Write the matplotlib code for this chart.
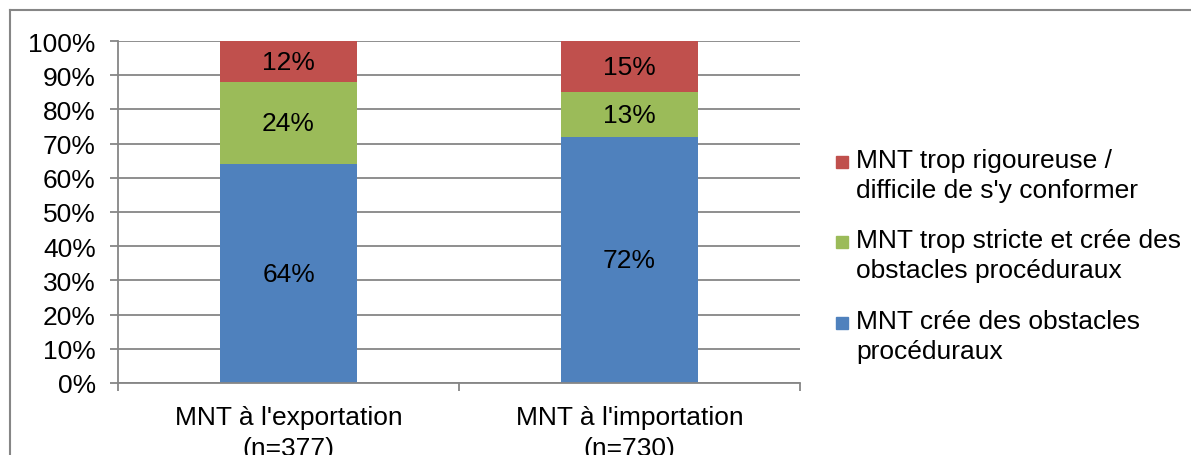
import matplotlib
matplotlib.use("Agg")
import matplotlib.pyplot as plt
from matplotlib.lines import Line2D
from matplotlib.patches import Rectangle
import numpy as np

categories = ["MNT à l'exportation\n(n=377)", "MNT à l'importation\n(n=730)"]
series_names = [
    "MNT crée des obstacles\nprocéduraux",
    "MNT trop stricte et crée des\nobstacles procéduraux",
    "MNT trop rigoureuse /\ndifficile de s'y conformer",
]
values = [
    [64, 72],   # crée des obstacles
    [24, 13],   # trop stricte
    [12, 15],   # trop rigoureuse
]
colors = ["#4F81BD", "#9BBB59", "#C0504D"]
yticks = [0, 10, 20, 30, 40, 50, 60, 70, 80, 90, 100]

W, H = 1191, 456
plt.rcParams["font.family"] = ["Liberation Sans", "DejaVu Sans"]
FS = 19
GRID = "#868686"

fig = plt.figure(figsize=(W / 100, H / 100), dpi=100)
ax = fig.add_axes([118 / W, 1 - 384 / H, (800 - 118) / W, (384 - 42) / H])

x = np.arange(len(categories))
bottom = np.zeros(len(categories))
for vals, col in zip(values, colors):
    vals = np.array(vals, dtype=float)
    bars = ax.bar(x, vals, width=0.4, bottom=bottom, color=col, zorder=2)
    for b, v, b0 in zip(bars, vals, bottom):
        ax.text(b.get_x() + b.get_width() / 2, b0 + v / 2, f"{v:.0f}%",
                ha="center", va="center", fontsize=FS, color="black", zorder=3)
    bottom += vals

ax.set_xlim(-0.5, len(categories) - 0.5)
ax.set_ylim(0, 100)
ax.set_yticks(yticks)
ax.set_yticklabels([f"{t}%" for t in yticks])
ax.yaxis.grid(True, color=GRID, linewidth=1.3, zorder=1)
ax.set_axisbelow(True)

# category labels sit between boundary ticks
ax.set_xticks(x)
ax.set_xticklabels(categories, linespacing=1.4)
ax.set_xticks(np.arange(-0.5, len(categories)), minor=True)
ax.tick_params(axis="x", which="major", length=0, pad=15.5, labelsize=FS)
ax.tick_params(axis="x", which="minor", length=6, width=1.3, color=GRID)
ax.tick_params(axis="y", length=6, width=1.3, color=GRID, pad=10, labelsize=FS)

for side in ("top", "right"):
    ax.spines[side].set_visible(False)
for side in ("left", "bottom"):
    ax.spines[side].set_color(GRID)
    ax.spines[side].set_linewidth(1.3)

# legend, top entry first, swatch lined up with the first text line
leg_rows = [163, 243, 324]
for name, col, yc in zip(series_names[::-1], colors[::-1], leg_rows):
    fig.add_artist(Rectangle((836 / W, 1 - (yc + 6) / H), 12 / W, 12 / H,
                             transform=fig.transFigure, color=col))
    fig.text(856 / W, 1 - (yc - 14) / H, name, ha="left", va="top",
             fontsize=FS, linespacing=1.32)

# chart-area border
fig.add_artist(Line2D([10 / W, 1], [1 - 11 / H, 1 - 11 / H], color=GRID, lw=1.5))
fig.add_artist(Line2D([10 / W, 10 / W], [0, 1 - 11 / H], color=GRID, lw=1.5))

fig.savefig("out.png", dpi=100)
